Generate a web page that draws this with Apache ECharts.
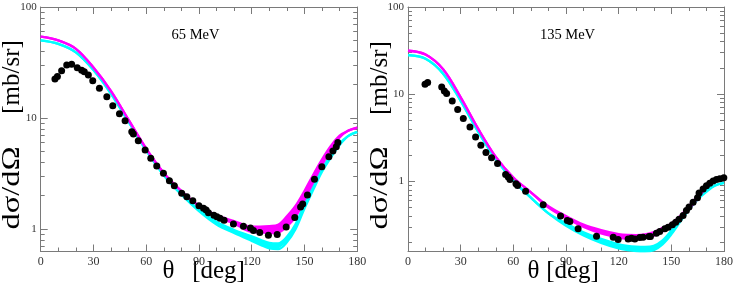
<!DOCTYPE html>
<html>
<head>
<meta charset="utf-8">
<script src="https://cdn.jsdelivr.net/npm/echarts@6/dist/echarts.min.js"></script>
<style>
html,body{margin:0;padding:0;background:#fff;}
#c{width:736px;height:291px;}
</style>
</head>
<body>
<div id="c"></div>
<script>
// ---------- data ----------
var THETA = [0,10,20,30,40,50,60,70,80,90,100,110,120,125,130,135,140,145,150,155,160,165,170,175,180];

// 65 MeV panel
var L_MAG_HI = [54,50,42,28.5,17.5,9.6,5.3,3.2,2.2,1.63,1.33,1.18,1.05,1.05,1.06,1.09,1.3,1.62,2.2,3.08,4.24,5.6,6.94,7.7,8.2];
var L_MAG_LO = [54,50,42,28.5,17.5,9.6,5.3,3.2,2.2,1.61,1.29,1.12,0.94,0.93,0.92,0.93,1.05,1.29,1.82,2.64,3.77,5.2,6.67,7.7,8.2];
var L_CYA_HI = [50,46.5,39,27,16.5,9.2,5.1,3.05,2.05,1.49,1.16,0.98,0.86,0.80,0.75,0.74,0.85,1.11,1.68,2.45,3.52,4.6,5.9,6.9,7.5];
var L_CYA_LO = [50,46.5,39,27,16.5,9.2,5.1,3.05,2.05,1.45,1.10,0.92,0.78,0.72,0.67,0.66,0.76,1.0,1.53,2.26,3.28,4.4,5.7,6.9,7.5];
var L_EXP_THETA = [8.1,9.5,11.9,14.8,17.6,20.8,23.3,24.8,27.1,29.6,33.4,37.6,41.0,44.8,48.0,51.8,52.7,55.5,59.4,62.6,66.0,69.8,73.2,76.0,80.2,83.1,86.5,90.0,92.6,94.1,95.4,98.5,100.2,102.0,104.3,109.6,115.3,119.3,121.0,124.6,129.5,134.5,139.6,144.5,147.8,149.0,151.7,155.7,159.9,163.9,166.2,168.1,169.0];
var L_EXP_VAL = [22.5,23.6,26.7,30.0,30.5,28.4,26.9,26.1,24.4,21.7,18.5,15.5,12.9,10.9,9.46,7.53,7.17,6.25,5.15,4.33,3.70,3.18,2.72,2.45,2.10,1.95,1.80,1.62,1.54,1.48,1.40,1.33,1.29,1.25,1.20,1.11,1.06,1.02,0.97,0.93,0.88,0.89,1.04,1.27,1.58,1.68,2.02,2.80,3.64,4.48,5.04,5.52,6.0];

// 135 MeV panel
var R_MAG_HI = [31.5,28.5,19.3,9.2,4.0,1.91,1.11,0.75,0.52,0.40,0.32,0.277,0.249,0.243,0.242,0.247,0.262,0.293,0.33,0.40,0.52,0.68,0.89,1.02,1.12];
var R_MAG_LO = [31.5,28.5,19.3,9.2,4.0,1.91,1.11,0.75,0.50,0.38,0.30,0.253,0.227,0.221,0.22,0.225,0.238,0.267,0.30,0.37,0.48,0.64,0.85,1.02,1.12];
var R_CYA_HI = [28,25.5,17.2,8.4,3.7,1.8,1.02,0.65,0.43,0.33,0.26,0.219,0.19,0.182,0.178,0.177,0.182,0.21,0.273,0.377,0.51,0.66,0.80,0.9,0.96];
var R_CYA_LO = [28,25.5,17.2,8.4,3.7,1.8,1.02,0.65,0.43,0.31,0.24,0.197,0.17,0.163,0.159,0.158,0.163,0.19,0.247,0.343,0.47,0.62,0.76,0.9,0.96];
var R_EXP_THETA = [9.7,11.2,19.2,20.7,22.0,25.2,28.3,31.5,35.3,38.5,41.5,44.4,47.6,51.0,55.6,57.1,58.1,61.5,62.4,67.0,77.0,86.9,90.7,92.2,96.9,107.4,116.9,119.7,125.4,127.3,129.2,132.0,133.9,137.3,138.1,141.5,143.4,146.3,148.2,150.6,152.5,154.4,156.7,158.6,160.1,162.4,164.9,165.8,168.1,170.0,171.9,173.8,175.7,177.6,179.9];
var R_EXP_VAL = [13.0,13.6,12.1,10.9,10.2,8.37,6.67,5.25,4.21,3.23,2.59,2.15,1.87,1.60,1.20,1.12,1.05,0.94,0.90,0.77,0.54,0.40,0.356,0.347,0.286,0.235,0.229,0.216,0.219,0.223,0.219,0.227,0.229,0.233,0.233,0.255,0.266,0.286,0.298,0.318,0.34,0.369,0.407,0.464,0.507,0.578,0.648,0.734,0.82,0.89,0.955,1.01,1.05,1.07,1.10];

var X_MIN = 0, X_MAX = 180, X_STEP = 30;
var L_Y_MIN = 0.627, R_Y_MIN = 0.157, Y_MAX = 100;
var LABEL_L = '65 MeV', LABEL_R = '135 MeV';
var X_TITLE_SYM = 'θ', X_TITLE_UNIT = '[deg]';
var Y_TITLE_SYM = 'dσ/dΩ', Y_TITLE_UNIT = '[mb/sr]';

// ---------- styling ----------
var MAG = '#ff00ff', CYA = '#00ffff';
var AX = '#7a7a7a';
var FONT = 'Liberation Serif';

function pairs(xs, ys){ return xs.map(function(x,i){ return [x, ys[i]]; }); }

function xAx(gi, pos, showLabel){
  return {
    type:'value', gridIndex:gi, position:pos, min:X_MIN, max:X_MAX, interval:X_STEP,
    axisLine:{show:true, onZero:false, lineStyle:{color:AX, width:1}},
    axisTick:{show:true, inside:true, length:7, lineStyle:{color:AX}},
    minorTick:{show:true, splitNumber:3, length:4, lineStyle:{color:AX}},
    splitLine:{show:false},
    axisLabel:{show:showLabel, fontFamily:FONT, fontSize:12, color:'#333', margin:4}
  };
}
function yAx(gi, pos, ymin, showLabel){
  return {
    type:'log', logBase:10, gridIndex:gi, position:pos, min:ymin, max:Y_MAX,
    axisLine:{show:true, onZero:false, lineStyle:{color:AX, width:1}},
    axisTick:{show:true, inside:true, length:7, lineStyle:{color:AX}},
    minorTick:{show:true, splitNumber:9, length:4, lineStyle:{color:AX}},
    splitLine:{show:false},
    axisLabel:{show:showLabel, fontFamily:FONT, fontSize:11, color:'#333', margin:4,
      showMinLabel:false,
      formatter:function(v){
        var l = Math.log10(v);
        if (Math.abs(l - Math.round(l)) > 1e-6) return '';
        return String(Math.round(v));
      }}
  };
}

function band(xi, yi, lo, hi, color, z){
  return {
    type:'custom', xAxisIndex:xi, yAxisIndex:yi, silent:true, z:z,
    data:[[90, 1]],
    renderItem:function(params, api){
      var pts = [];
      for (var i=0;i<THETA.length;i++) pts.push(api.coord([THETA[i], hi[i]]));
      for (var j=THETA.length-1;j>=0;j--) pts.push(api.coord([THETA[j], lo[j]]));
      return {type:'polygon', shape:{points:pts}, style:{fill:color, stroke:null}};
    }
  };
}
function edge(xi, yi, vals, color, z){
  return {
    type:'line', xAxisIndex:xi, yAxisIndex:yi, data:pairs(THETA, vals),
    smooth:0.35, showSymbol:false, silent:true, z:z,
    lineStyle:{color:color, width:2.3}
  };
}
function dots(xi, yi, xs, ys){
  return {
    type:'scatter', xAxisIndex:xi, yAxisIndex:yi, data:pairs(xs, ys),
    symbol:'circle', symbolSize:7, itemStyle:{color:'#000', opacity:1}, z:10, silent:true
  };
}

function txt(x, y, s, size, rot, sx){
  return {type:'text', x:x, y:y, rotation:rot||0, scaleX:sx||1, silent:true,
    style:{text:s, font: size + 'px "' + FONT + '"', fill:'#000',
           align:'center', verticalAlign:'middle'}};
}

var chart = echarts.init(document.getElementById('c'), null, {renderer:'canvas'});
chart.setOption({
  animation:false,
  backgroundColor:'#fff',
  grid:[
    {left:40.7, top:7, width:316.5, height:244.5},
    {left:408, top:7, width:316.5, height:244.5}
  ],
  xAxis:[ xAx(0,'bottom',true), xAx(0,'top',false), xAx(1,'bottom',true), xAx(1,'top',false) ],
  yAxis:[ yAx(0,'left',L_Y_MIN,true), yAx(0,'right',L_Y_MIN,false), yAx(1,'left',R_Y_MIN,true), yAx(1,'right',R_Y_MIN,false) ],
  series:[
    band(0,0,L_CYA_LO,L_CYA_HI,CYA,2), edge(0,0,L_CYA_LO,CYA,3), edge(0,0,L_CYA_HI,CYA,3),
    band(0,0,L_MAG_LO,L_MAG_HI,MAG,4), edge(0,0,L_MAG_LO,MAG,5), edge(0,0,L_MAG_HI,MAG,5),
    dots(0,0,L_EXP_THETA,L_EXP_VAL),
    band(2,2,R_CYA_LO,R_CYA_HI,CYA,2), edge(2,2,R_CYA_LO,CYA,3), edge(2,2,R_CYA_HI,CYA,3),
    band(2,2,R_MAG_LO,R_MAG_HI,MAG,4), edge(2,2,R_MAG_LO,MAG,5), edge(2,2,R_MAG_HI,MAG,5),
    dots(2,2,R_EXP_THETA,R_EXP_VAL)
  ],
  graphic:[
    txt(195.5, 35, LABEL_L, 14.5),
    txt(567.5, 35, LABEL_R, 14.5),
    txt(168.5, 271, X_TITLE_SYM, 25),
    txt(218.5, 271, X_TITLE_UNIT, 25),
    txt(533.5, 271, X_TITLE_SYM, 25),
    txt(572.5, 271, X_TITLE_UNIT, 25),
    txt(12, 77, Y_TITLE_UNIT, 25, Math.PI/2),
    txt(12, 188, Y_TITLE_SYM, 25, Math.PI/2, 1.3),
    txt(380, 78, Y_TITLE_UNIT, 25, Math.PI/2),
    txt(380, 188, Y_TITLE_SYM, 25, Math.PI/2, 1.3)
  ]
});
</script>
</body>
</html>
